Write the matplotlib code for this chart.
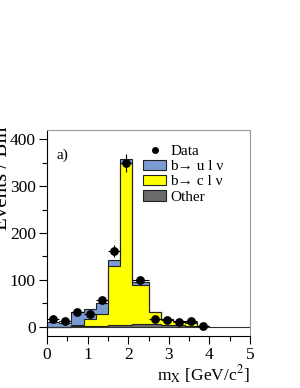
import numpy as np
import matplotlib
matplotlib.use("Agg")
import matplotlib.pyplot as plt
from matplotlib.patches import Patch
from matplotlib.lines import Line2D
from matplotlib.ticker import MultipleLocator

plt.rcParams['font.family'] = ['Liberation Serif', 'DejaVu Serif']
plt.rcParams['mathtext.fontset'] = 'stix'

# bin edges (GeV/c^2)
edges = [0.0, 0.3, 0.6, 0.9, 1.2, 1.5, 1.8, 2.1, 2.5, 2.8, 3.1, 3.4, 3.7, 4.0]
# stacked components (events per bin)
other = [0, 0, 1, 2, 2, 3, 4, 6, 5, 4, 3, 2, 0.5]
b_to_c = [0, 0, 3, 14, 25, 126, 346, 84, 26, 12, 8, 6, 0.5]
b_to_u = [9, 7, 28, 22, 24, 14, 9, 5, 1, 1, 1, 1, 0]
# data
data_x = [0.15, 0.45, 0.75, 1.05, 1.35, 1.65, 1.95, 2.3, 2.65, 2.95, 3.25, 3.55, 3.85]
data_y = [16, 12, 32, 26, 56, 161, 350, 99, 16, 14, 9, 13, 2]

edges_a = np.array(edges)
o = np.array(other, float)
c = np.array(b_to_c, float)
u = np.array(b_to_u, float)
lvl1 = o
lvl2 = o + c
lvl3 = o + c + u

fig = plt.figure(figsize=(3.0, 3.88), dpi=100)
ax = fig.add_axes([47/300, 52/388, 203/300, 206/388])

blue = '#7b9bd3'
yellow = '#ffff00'
grey = '#6b6b6b'

ax.stairs(lvl3, edges_a, baseline=lvl2, fill=True, color=blue, lw=0)
ax.stairs(lvl2, edges_a, baseline=lvl1, fill=True, color=yellow, lw=0)
ax.stairs(lvl1, edges_a, baseline=0, fill=True, color=grey, lw=0)
for lv in (lvl3, lvl2, lvl1):
    ax.stairs(lv, edges_a, baseline=None, fill=False, color='#222222', lw=0.8)

ax.axhline(0, color='#333333', lw=0.8, zorder=1)

dx = np.diff(edges_a) / 2
ax.errorbar(data_x, data_y, yerr=np.sqrt(np.array(data_y, float)), xerr=dx,
            fmt='o', color='black', ms=5.3, elinewidth=0.8, capsize=0, zorder=5)

ax.set_xlim(0, 5)
ax.set_ylim(-20, 420)
ax.xaxis.set_major_locator(MultipleLocator(1))
ax.xaxis.set_minor_locator(MultipleLocator(0.5))
ax.yaxis.set_major_locator(MultipleLocator(100))
ax.yaxis.set_minor_locator(MultipleLocator(50))
ax.tick_params(which='both', direction='out', top=False, right=False, labelsize=12.5, width=0.8)
ax.tick_params(which='major', length=6, pad=2)
ax.tick_params(which='minor', length=3.5)
for s in ('top', 'right'):
    ax.spines[s].set_color('#999999')
for s in ('left', 'bottom'):
    ax.spines[s].set_color('black')
for s in ax.spines.values():
    s.set_linewidth(0.8)

ax.text(0.045, 0.875, 'a)', transform=ax.transAxes, fontsize=11, ha='left', va='center')

handles = [Line2D([], [], marker='o', ls='none', color='black', ms=4),
           Patch(facecolor=blue, edgecolor='#222222', lw=0.8),
           Patch(facecolor=yellow, edgecolor='#222222', lw=0.8),
           Patch(facecolor=grey, edgecolor='#222222', lw=0.8)]
labels = ['Data', 'b\u2192 u l \u03bd', 'b\u2192 c l \u03bd', 'Other']
ax.legend(handles, labels, loc='upper left', bbox_to_anchor=(0.475, 0.93),
          frameon=False, fontsize=11, handlelength=1.45, handleheight=0.65,
          handletextpad=0.3, labelspacing=0.12, borderaxespad=0, borderpad=0)

fig.text(12/300, 262/388, 'Events / Bin', rotation=90, ha='right', va='top', fontsize=15)
fig.text(250/300, 2/388, r'm$_{\mathrm{X}}$ [GeV/c$^{2}$]', ha='right', va='bottom', fontsize=12.5)

fig.savefig('out.png', dpi=100)
